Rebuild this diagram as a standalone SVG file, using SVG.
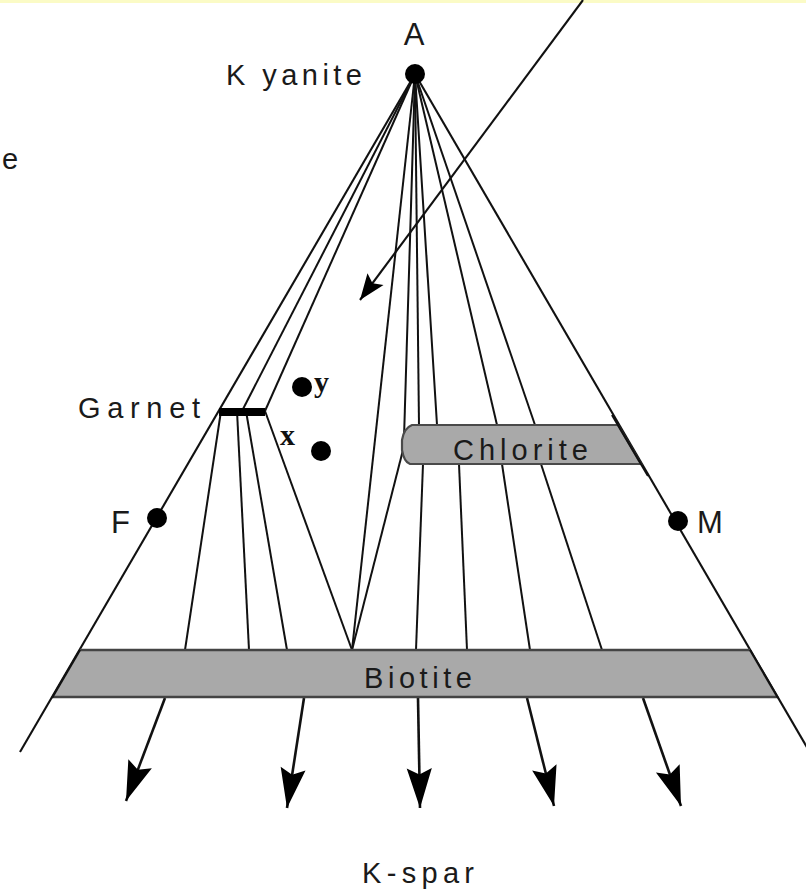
<svg xmlns="http://www.w3.org/2000/svg" width="806" height="892" viewBox="0 0 806 892">
<style>
.lab{font-family:"Liberation Sans",Arial,sans-serif;fill:#1a1a1a;font-size:29px}
.big{font-family:"Liberation Sans",Arial,sans-serif;fill:#1a1a1a;font-size:31px}
.ser{font-family:"Liberation Serif","Times New Roman",serif;fill:#111;font-size:30px;font-weight:bold}
.tie{stroke:#111;stroke-width:2;fill:none}
.edge{stroke:#111;stroke-width:2.1;fill:none}
.arr{stroke:#111;stroke-width:2.6;fill:none}
.band{fill:#a9a9a9;stroke:#4a4a4a;stroke-width:2.2}
.dot{fill:#000}
</style>
<defs>
<marker id="headBig" markerUnits="userSpaceOnUse" markerWidth="44" markerHeight="30" viewBox="-40 -14 42 28" refX="0" refY="0" orient="auto">
<path d="M0,0 L-38,-12 L-32,0 L-38,12 Z" fill="#000"/>
</marker>
<marker id="headSmall" markerUnits="userSpaceOnUse" markerWidth="30" markerHeight="26" viewBox="-28 -13 30 26" refX="0" refY="0" orient="auto">
<path d="M0,0 L-26,-10 L-21,0 L-26,10 Z" fill="#000"/>
</marker>
</defs>
<rect x="0" y="0" width="806" height="892" fill="#fff"/>
<rect x="0" y="0" width="806" height="3" fill="#fbfbc6"/>
<text class="lab" x="2" y="169" font-size="25">e</text>

<g id="connectors">
<line class="edge" x1="415" y1="74" x2="20" y2="752"/>
<line class="edge" x1="415" y1="74" x2="812" y2="756"/>
<line class="tie" x1="415" y1="74" x2="242" y2="411"/>
<line class="tie" x1="415" y1="74" x2="265" y2="411"/>
<line class="tie" x1="415" y1="74" x2="352" y2="650"/>
<line class="tie" x1="415" y1="74" x2="404" y2="438"/>
<line class="tie" x1="415" y1="74" x2="419" y2="425"/>
<line class="tie" x1="415" y1="74" x2="437" y2="425"/>
<line class="tie" x1="415" y1="74" x2="497" y2="425"/>
<line class="tie" x1="415" y1="74" x2="535" y2="425"/>
<line class="tie" x1="221" y1="411" x2="185" y2="650"/>
<line class="tie" x1="237" y1="411" x2="249" y2="650"/>
<line class="tie" x1="246" y1="411" x2="287" y2="650"/>
<line class="tie" x1="265" y1="411" x2="352" y2="650"/>
<line class="tie" x1="403" y1="450" x2="352" y2="650"/>
<line class="tie" x1="423" y1="464" x2="416" y2="650"/>
<line class="tie" x1="459" y1="464" x2="467" y2="650"/>
<line class="tie" x1="502" y1="464" x2="530" y2="650"/>
<line class="tie" x1="541" y1="464" x2="602" y2="650"/>
<line class="edge" x1="583" y1="0" x2="360" y2="300" marker-end="url(#headSmall)"/>
<line class="arr" x1="165" y1="698" x2="126" y2="801" marker-end="url(#headBig)"/>
<line class="arr" x1="304" y1="698" x2="287" y2="808" marker-end="url(#headBig)"/>
<line class="arr" x1="418" y1="698" x2="420" y2="808" marker-end="url(#headBig)"/>
<line class="arr" x1="527" y1="698" x2="554" y2="806" marker-end="url(#headBig)"/>
<line class="arr" x1="643" y1="698" x2="681" y2="806" marker-end="url(#headBig)"/>
</g>

<g id="biotite">
<path d="M80,650 L750,650 L778,697 L53,697 Z" fill="#a9a9a9"/>
<line x1="80" y1="650" x2="750" y2="650" stroke="#444" stroke-width="2.5"/>
<line x1="53" y1="697" x2="778" y2="697" stroke="#444" stroke-width="2.5"/>
<line class="edge" x1="80" y1="650" x2="52" y2="698"/>
<line class="edge" x1="750" y1="650" x2="778" y2="698"/>
<text class="lab" x="364" y="688" textLength="108" lengthAdjust="spacing">Biotite</text>
</g>

<g id="chlorite">
<path class="band" d="M412,425 L618,425 L641,464 L410,464 Q404,462 402,450 L402,440 Q404,428 412,425 Z"/>
<line class="edge" x1="612" y1="415" x2="648" y2="476"/>
<text class="lab" x="453" y="460" textLength="135" lengthAdjust="spacing">Chlorite</text>
</g>

<g id="kyanite">
<circle class="dot" cx="415" cy="74" r="10"/>
<text class="big" x="414" y="45" text-anchor="middle" font-size="37">A</text>
<text class="lab" x="226" y="85" textLength="136" lengthAdjust="spacing">K yanite</text>
</g>

<g id="garnet">
<rect x="219" y="408" width="46" height="8" fill="#000"/>
<text class="lab" x="78" y="418" textLength="122" lengthAdjust="spacing">Garnet</text>
</g>

<g id="F">
<circle class="dot" cx="157" cy="518" r="10"/>
<text class="big" x="111" y="533">F</text>
</g>

<g id="M">
<circle class="dot" cx="678" cy="521" r="10"/>
<text class="big" x="697" y="533">M</text>
</g>

<g id="point-y">
<circle class="dot" cx="302" cy="387" r="10"/>
<text class="ser" x="314" y="392">y</text>
</g>

<g id="point-x">
<circle class="dot" cx="321" cy="451" r="10"/>
<text class="ser" x="280" y="445" font-size="27">x</text>
</g>

<g id="kspar">
<text class="lab" x="362" y="883" textLength="112" lengthAdjust="spacing">K-spar</text>
</g>
</svg>
